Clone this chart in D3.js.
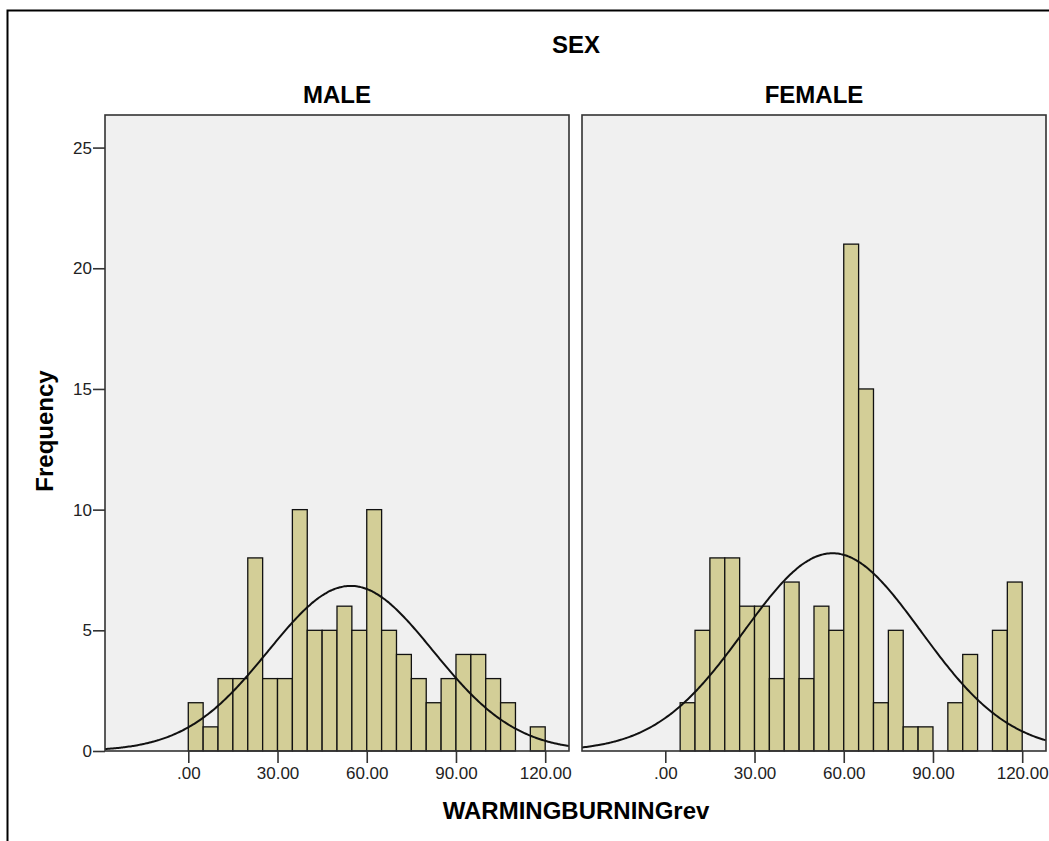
<!DOCTYPE html>
<html>
<head>
<meta charset="utf-8">
<script src="https://cdn.jsdelivr.net/npm/d3@7.9.0/dist/d3.min.js"></script>
<style>
  body { margin: 0; background: #fff; }
  svg { display: block; font-family: "Liberation Sans", Arial, sans-serif; }
</style>
</head>
<body>
<svg id="chart" width="1049" height="841"></svg>
<script>
// histogram bins (width 5)
const binWidth = 5;
const maleBinStarts = [0, 5, 10, 15, 20, 25, 30, 35, 40, 45, 50, 55, 60, 65, 70, 75, 80, 85, 90, 95, 100, 105, 110, 115];
const maleCounts = [2, 1, 3, 3, 8, 3, 3, 10, 5, 5, 6, 5, 10, 5, 4, 3, 2, 3, 4, 4, 3, 2, 0, 1];
const femaleBinStarts = [5, 10, 15, 20, 25, 30, 35, 40, 45, 50, 55, 60, 65, 70, 75, 80, 85, 90, 95, 100, 105, 110, 115];
const femaleCounts = [2, 5, 8, 8, 6, 6, 3, 7, 3, 6, 5, 21, 15, 2, 5, 1, 1, 0, 2, 4, 0, 5, 7];

// fitted normal curve parameters (estimated from the curve peaks)
const maleMean = 54.6, maleSd = 27.7;
const femaleMean = 56.2, femaleSd = 29.7;

const xTicks = [0, 30, 60, 90, 120];
const yTicks = [0, 5, 10, 15, 20, 25];
const panelTitles = ['MALE', 'FEMALE'];

const svg = d3.select('#chart');

const panelW = 464, panelH = 636;
const panelTop = 115;
const panelLefts = [105, 582];

const x = d3.scaleLinear().domain([-28, 128]).range([0, panelW]);
const y = d3.scaleLinear().domain([0, 26.35]).range([panelH, 0]);

// outer frame
svg.append('rect')
  .attr('x', 7.5).attr('y', 10.5)
  .attr('width', 1200).attr('height', 1000)
  .attr('fill', 'none').attr('stroke', '#000').attr('stroke-width', 2);

svg.append('text')
  .attr('x', 576).attr('y', 53)
  .attr('text-anchor', 'middle')
  .attr('font-size', 24).attr('font-weight', 'bold')
  .text('SEX');

const panels = [
  { title: panelTitles[0], starts: maleBinStarts, counts: maleCounts, mean: maleMean, sd: maleSd },
  { title: panelTitles[1], starts: femaleBinStarts, counts: femaleCounts, mean: femaleMean, sd: femaleSd }
];

const fmt = v => v === 0 ? '.00' : v.toFixed(2);

panels.forEach((p, i) => {
  const g = svg.append('g').attr('transform', `translate(${panelLefts[i]},${panelTop})`);

  g.append('rect')
    .attr('width', panelW).attr('height', panelH)
    .attr('fill', '#f0f0f0');

  svg.append('text')
    .attr('x', panelLefts[i] + panelW / 2).attr('y', 103)
    .attr('text-anchor', 'middle')
    .attr('font-size', 24).attr('font-weight', 'bold')
    .text(p.title);

  const clipId = 'clip' + i;
  g.append('clipPath').attr('id', clipId)
    .append('rect').attr('width', panelW).attr('height', panelH);

  const bins = p.starts.map((s, k) => ({ x0: s, x1: s + binWidth, n: p.counts[k] }))
    .filter(d => d.n > 0);

  g.selectAll('rect.bar')
    .data(bins)
    .join('rect')
    .attr('class', 'bar')
    .attr('x', d => x(d.x0))
    .attr('width', d => x(d.x1) - x(d.x0))
    .attr('y', d => y(d.n))
    .attr('height', d => y(0) - y(d.n))
    .attr('fill', '#d3ce97')
    .attr('stroke', '#111')
    .attr('stroke-width', 1.3);

  // normal curve scaled to counts
  const total = d3.sum(p.counts);
  const pts = d3.range(-28, 128.01, 0.5).map(v => {
    const z = (v - p.mean) / p.sd;
    return [v, total * binWidth * Math.exp(-0.5 * z * z) / (p.sd * Math.sqrt(2 * Math.PI))];
  });
  g.append('path')
    .datum(pts)
    .attr('clip-path', `url(#${clipId})`)
    .attr('fill', 'none')
    .attr('stroke', '#111')
    .attr('stroke-width', 2)
    .attr('d', d3.line().x(d => x(d[0])).y(d => y(d[1])).curve(d3.curveBasis));

  // panel border
  g.append('rect')
    .attr('width', panelW).attr('height', panelH)
    .attr('fill', 'none').attr('stroke', '#333').attr('stroke-width', 1.6);

  const xa = g.append('g')
    .attr('transform', `translate(0,${panelH})`)
    .call(d3.axisBottom(x).tickValues(xTicks).tickFormat(fmt).tickSize(12).tickPadding(4));
  xa.select('.domain').remove();
  xa.selectAll('line').attr('stroke', '#333').attr('stroke-width', 1.6);
  xa.selectAll('text').attr('font-size', 17).attr('fill', '#222')
    .attr('font-family', '"Liberation Sans", Arial, sans-serif');

  if (i === 0) {
    const ya = g.append('g')
      .call(d3.axisLeft(y).tickValues(yTicks).tickFormat(d3.format('d')).tickSize(12).tickPadding(1));
    ya.select('.domain').remove();
    ya.selectAll('line').attr('stroke', '#333').attr('stroke-width', 1.6);
    ya.selectAll('text').attr('font-size', 17).attr('fill', '#222')
      .attr('font-family', '"Liberation Sans", Arial, sans-serif');
  }
});

svg.append('text')
  .attr('transform', 'translate(53,431) rotate(-90)')
  .attr('text-anchor', 'middle')
  .attr('font-size', 24).attr('font-weight', 'bold')
  .text('Frequency');

svg.append('text')
  .attr('x', 576).attr('y', 819)
  .attr('text-anchor', 'middle')
  .attr('font-size', 24).attr('font-weight', 'bold')
  .text('WARMINGBURNINGrev');
</script>
</body>
</html>
